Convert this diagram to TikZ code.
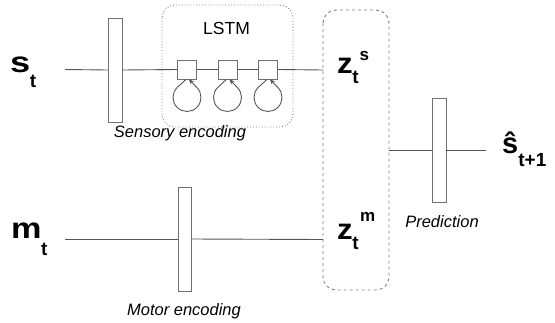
\documentclass[tikz,border=0pt]{standalone}
\usepackage{fontspec}
\setmainfont{Liberation Sans}
\usetikzlibrary{arrows.meta}
\definecolor{wire}{HTML}{555555}
\definecolor{boxline}{HTML}{707070}
\definecolor{frame}{HTML}{808080}
\tikzset{
  wireline/.style={draw=wire, line width=0.9pt},
  encbox/.style={draw=boxline, line width=0.9pt, fill=white, minimum width=14pt, minimum height=104pt, inner sep=0pt},
  cellbox/.style={draw=boxline, line width=0.9pt, fill=white, minimum width=19pt, minimum height=19pt, inner sep=0pt},
  varlabel/.style={anchor=base west, inner sep=0pt, font=\fontsize{29}{29}\selectfont\bfseries},
  caption/.style={inner sep=0pt, font=\fontsize{16.5}{18}\selectfont\itshape},
  selfloop/.style={draw=wire, line width=0.9pt, -{Stealth[length=5pt,width=4.5pt]}}
}
\newcommand{\lowsub}[2]{\raisebox{#1}{\fontsize{19}{19}\selectfont\bfseries #2}}
\newcommand{\wide}[2]{\scalebox{#1}[1]{#2}}
\begin{document}
\begin{tikzpicture}[x=1pt, y=-1pt]
\useasboundingbox (0,0) rectangle (555,322);

% grouping frames
\draw[frame, line width=0.9pt, dotted, rounded corners=13pt] (162,5) rectangle (293,127);
\node[inner sep=0pt, font=\fontsize{17.5}{18}\selectfont] (lstmlabel) at (226.5,28) {LSTM};
\draw[frame, line width=0.9pt, dashed, rounded corners=13pt] (323,10) rectangle (389,290);

% wire ends
\coordinate (sin) at (65,69.5);
\coordinate (min) at (65,239);
\coordinate (zs) at (323,70);
\coordinate (zm) at (323,239.5);
\coordinate (pin) at (389,150);
\coordinate (pout) at (486,150);

% layers
\node[encbox] (encs) at (115,70) {};
\node[encbox, minimum width=13pt] (encm) at (184.5,239) {};
\node[encbox] (pred) at (439,150) {};
\node[cellbox] (c1) at (187,69.5) {};
\node[cellbox] (c2) at (227.5,69.5) {};
\node[cellbox] (c3) at (268,69.5) {};

% connections
\draw[wireline] (sin) -- (encs.west);
\draw[wireline] (encs.east) -- (c1.west);
\draw[wireline] (c1.east) -- (c2.west);
\draw[wireline] (c2.east) -- (c3.west);
\draw[wireline] (c3.east) -- (zs);
\draw[wireline] (min) -- (encm.west);
\draw[wireline] (encm.east) -- (zm);
\draw[wireline] (pin) -- (pred.west);
\draw[wireline] (pred.east) -- (pout);

% recurrent self-loops: a circle hanging under each cell
% (arc angles are measured on the page, y pointing up)
\foreach \c in {c1,c2,c3}{
  \draw[selfloop] ([xshift=-1pt]\c.south) -- ++(-8.9,8.1)
    arc[start angle=135, end angle=405, radius=14pt] -- ([xshift=2pt]\c.south);
}

% variable labels
\node[varlabel] (st) at (10,72) {\wide{1.25}{s}\kern-0.5pt\lowsub{-15pt}{t}};
\node[varlabel] (mt) at (11,238) {\wide{1.18}{m}\kern-0.5pt\lowsub{-17pt}{t}};
\node[varlabel] (zst) at (337,73) {\wide{1.08}{z}\kern-0.5pt\lowsub{-10pt}{t}\kern1pt\raisebox{13pt}{\fontsize{17}{17}\selectfont s}};
\node[varlabel] (zmt) at (337,239) {\wide{1.08}{z}\kern-0.5pt\lowsub{-10pt}{t}\kern1.5pt\raisebox{18pt}{\fontsize{17}{17}\selectfont m}};
\node[varlabel] (shat) at (502,153) {ŝ\kern0pt\lowsub{-13pt}{t+1}};

% captions
\node[caption] (capsens) at (180,133) {Sensory encoding};
\node[caption] (capmot) at (184,311) {Motor encoding};
\node[caption] (cappred) at (442,222) {Prediction};
\end{tikzpicture}
\end{document}
